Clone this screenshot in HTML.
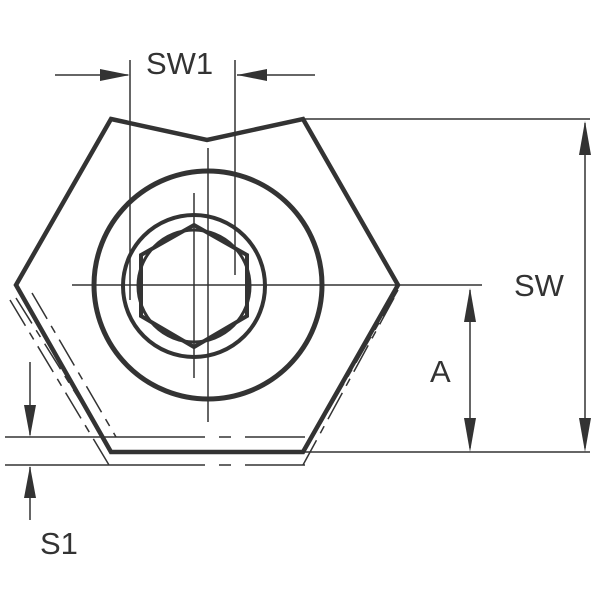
<!DOCTYPE html>
<html><head><style>body{margin:0;background:#fff}svg{display:block}</style></head><body>
<svg width="600" height="600" viewBox="0 0 600 600" xmlns="http://www.w3.org/2000/svg">
<g fill="none" stroke="#333">
<polygon points="111,119 207,140 303,119 398,285 303,452 111,452 16,285" stroke-width="4.5" stroke-linejoin="miter"/>
<circle cx="208" cy="285" r="114" stroke-width="5"/>
<circle cx="194" cy="286" r="71" stroke-width="4"/>
<polygon points="194,225 247,255 247,316 194,347 141,316 141,255" stroke-width="4"/>
<circle cx="194" cy="286" r="56" stroke-width="3"/>
<g stroke-width="1.5">
<line x1="72" y1="285" x2="482" y2="285"/>
<line x1="208" y1="148" x2="208" y2="422"/>
<line x1="194" y1="193" x2="194" y2="378"/>
<line x1="130" y1="60" x2="130" y2="300"/>
<line x1="235" y1="60" x2="235" y2="275"/>
<line x1="303" y1="119" x2="590" y2="119"/>
<line x1="303" y1="452" x2="590" y2="452"/>
<line x1="5" y1="437" x2="305" y2="437" stroke-dasharray="200,14,12,14,300"/>
<line x1="5" y1="465" x2="305" y2="465" stroke-dasharray="200,14,12,14,300"/>
<line x1="16" y1="298" x2="103" y2="437" stroke-dasharray="30,8,8,8"/>
<line x1="32" y1="293" x2="116" y2="437" stroke-dasharray="30,8,8,8"/>
<line x1="10" y1="300" x2="109" y2="465" stroke-dasharray="30,8,8,8"/>
<line x1="398" y1="290" x2="313" y2="437" stroke-dasharray="30,8,8,8"/>
<line x1="394" y1="298" x2="303" y2="465" stroke-dasharray="30,8,8,8"/>
<line x1="55" y1="75" x2="128" y2="75"/>
<line x1="237" y1="75" x2="315" y2="75"/>
<line x1="470" y1="290" x2="470" y2="448"/>
<line x1="585" y1="123" x2="585" y2="448"/>
<line x1="30" y1="362" x2="30" y2="435"/>
<line x1="30" y1="467" x2="30" y2="520"/>
</g>
</g>
<g fill="#333">
<polygon points="130,75 100,69 100,81"/>
<polygon points="237,75 267,69 267,81"/>
<polygon points="470,288 464,322 476,322"/>
<polygon points="470,452 464,418 476,418"/>
<polygon points="585,121 579,155 591,155"/>
<polygon points="585,452 579,418 591,418"/>
<polygon points="30,437 24,405 36,405"/>
<polygon points="30,466 24,498 36,498"/>
</g>
<g font-family="'Liberation Sans',sans-serif" font-size="31" fill="#333">
<text x="146" y="74">SW1</text>
<text x="514" y="296">SW</text>
<text x="430" y="382">A</text>
<text x="40" y="554">S1</text>
</g>
</svg>
</body></html>
